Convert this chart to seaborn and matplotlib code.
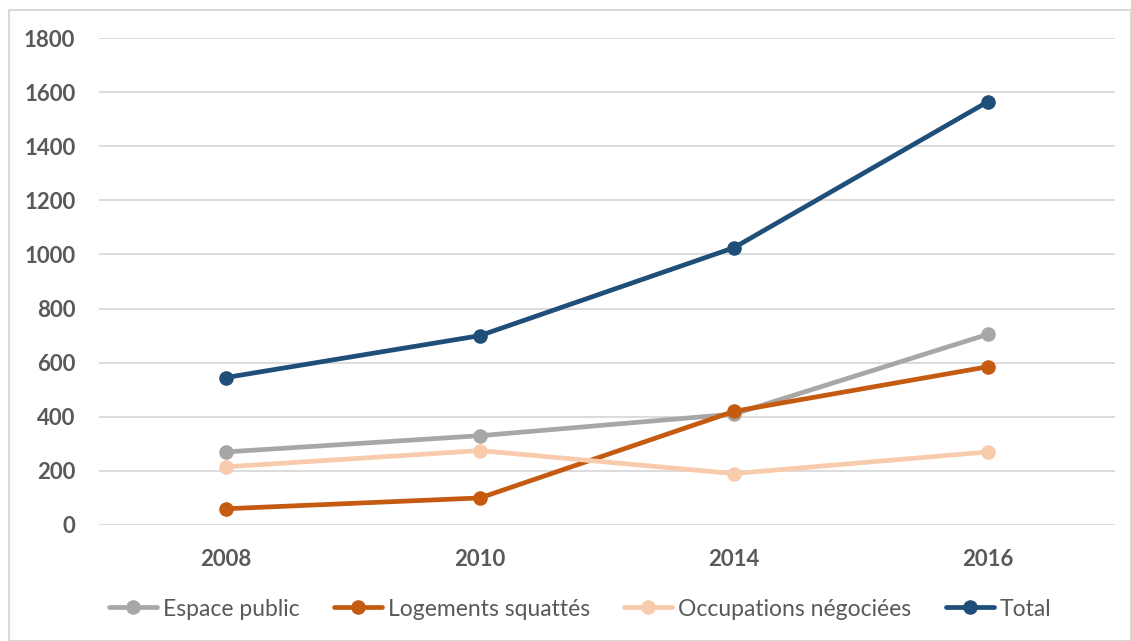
import matplotlib
matplotlib.use("Agg")
import matplotlib.pyplot as plt
import seaborn as sns
import pandas as pd
from matplotlib.patches import Rectangle

years = ["2008", "2010", "2014", "2016"]
espace_public = [270, 330, 410, 705]
logements_squattes = [60, 100, 420, 585]
occupations_negociees = [215, 275, 190, 270]
total = [545, 700, 1025, 1565]

series_names = ["Espace public", "Logements squattés", "Occupations négociées", "Total"]
series_values = [espace_public, logements_squattes, occupations_negociees, total]
colors = ["#A9A6A6", "#C55A11", "#F8CBAD", "#1F4E79"]
y_ticks = [0, 200, 400, 600, 800, 1000, 1200, 1400, 1600, 1800]

rows = []
for name, vals in zip(series_names, series_values):
    for y, v in zip(years, vals):
        rows.append({"Année": y, "Valeur": v, "Série": name})
df = pd.DataFrame(rows)

sns.set_theme(style="white")
plt.rcParams["font.family"] = ["Lato", "DejaVu Sans"]

fig = plt.figure(figsize=(11.31, 6.41), dpi=100)
ax = fig.add_axes([0.0875, 0.181, 0.8984, 0.7597])

sns.lineplot(data=df, x="Année", y="Valeur", hue="Série", hue_order=series_names,
             palette=colors, marker="o", markersize=10.5, markeredgewidth=0,
             linewidth=3.4, sort=False, ax=ax, legend=True)

ax.set_xlim(-0.5, 3.5)
ax.set_ylim(0, 1800)
ax.set_yticks(y_ticks)
ax.set_yticklabels([str(t) for t in y_ticks])
ax.grid(axis="y", color="#D9D9D9", linewidth=1.3)
ax.set_axisbelow(True)
for s in ax.spines.values():
    s.set_visible(False)
ax.set_xlabel("")
ax.set_ylabel("")
ax.tick_params(axis="both", length=0, labelsize=16, labelcolor="#595959")
ax.tick_params(axis="y", pad=17)
ax.tick_params(axis="x", pad=17)
for lbl in ax.get_xticklabels() + ax.get_yticklabels():
    lbl.set_fontweight("bold")

handles, labels = ax.get_legend_handles_labels()
ax.get_legend().remove()
leg = fig.legend(handles, labels, loc="center", bbox_to_anchor=(580 / 1131, 32 / 641),
                 ncol=4, frameon=False, fontsize=16.5, handlelength=2.1,
                 columnspacing=1.5, handletextpad=0.25)
for t in leg.get_texts():
    t.set_color("#595959")

fig.patches.append(Rectangle((9 / 1131, 0), 1 - 9 / 1131, 1 - 10 / 641,
                             transform=fig.transFigure, fill=False,
                             edgecolor="#D9D9D9", linewidth=1.5))

fig.savefig("out.png", dpi=100)
